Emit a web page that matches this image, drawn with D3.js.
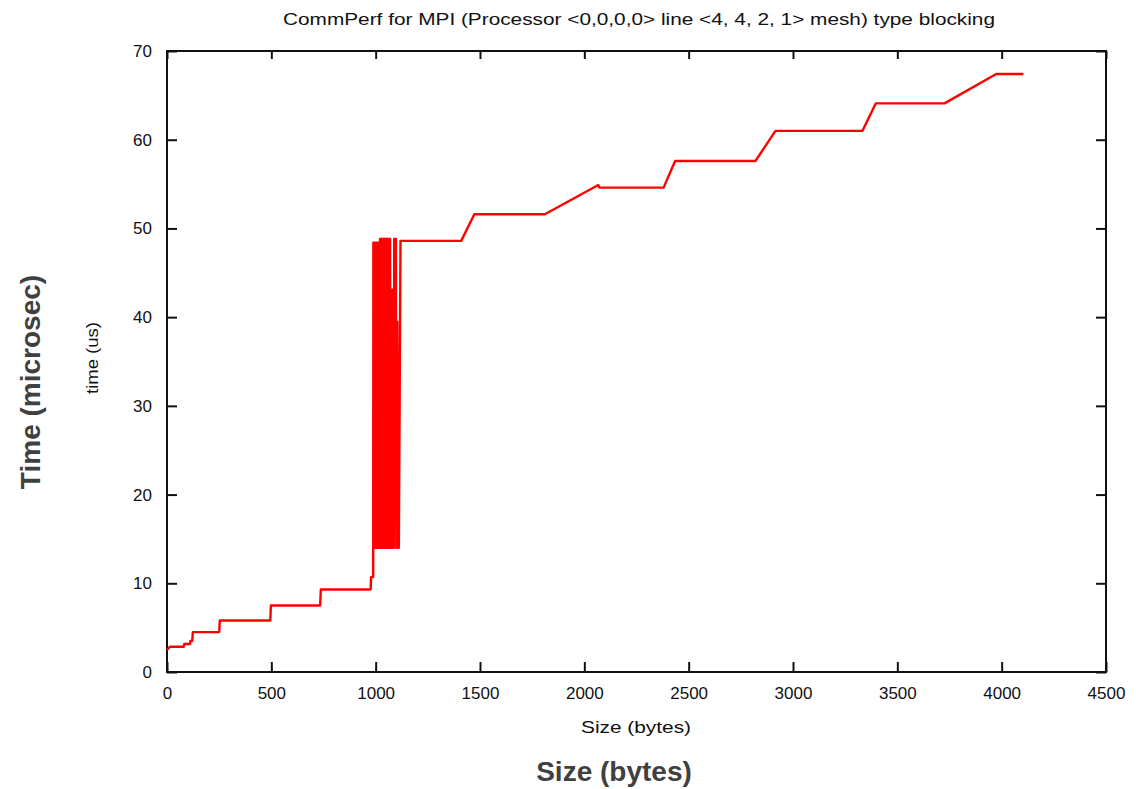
<!DOCTYPE html>
<html>
<head>
<meta charset="utf-8">
<script src="https://cdn.jsdelivr.net/npm/d3@7"></script>
<style>
  body { margin: 0; background: #fff; }
  svg { display: block; }
  .tick text { font-family: "Liberation Sans", Arial, sans-serif; font-size: 17px; fill: #111; }
</style>
</head>
<body>
<svg id="chart" width="1136" height="789"></svg>
<script>
var sizes = [0, 14, 80, 83, 110, 112, 121, 124, 250, 253, 495, 498, 734, 737, 976, 978, 988,
    989, 991, 993, 995, 997, 999, 1001, 1003, 1005, 1007, 1009, 1011, 1013, 1015, 1017, 1019,
    1021, 1023, 1025, 1027, 1029, 1031, 1033, 1035, 1037, 1039, 1041, 1043, 1045, 1047,
    1049, 1051, 1053, 1055, 1057, 1059, 1061, 1063, 1065, 1067, 1069, 1071, 1073, 1075,
    1077, 1079, 1081, 1083, 1085, 1087, 1089, 1091, 1093, 1095, 1097, 1099,
    1104, 1108, 1111, 1117, 1119,
    1410, 1473, 1811, 2067, 2072, 2380, 2435, 2820, 2916, 3333, 3397, 3726, 3974, 4104];
var times = [2.5, 2.85, 2.85, 3.15, 3.15, 3.5, 3.5, 4.5, 4.5, 5.8, 5.8, 7.5, 7.5, 9.3, 9.3, 10.7, 10.7,
    48.4, 14.0, 48.4, 14.0, 48.4, 14.0, 48.4, 14.0, 48.4, 14.0, 48.4, 14.0, 48.4, 14.0, 48.4, 14.0,
    48.8, 14.0, 48.8, 14.0, 48.8, 14.0, 48.8, 14.0, 48.8, 14.0, 48.8, 14.0, 48.8, 14.0,
    48.8, 14.0, 48.8, 14.0, 48.8, 14.0, 48.8, 14.0, 48.8, 14.0, 48.8, 14.0, 43.1, 14.0,
    43.1, 14.0, 43.1, 14.0, 43.1, 14.0, 48.8, 18.6, 48.8, 18.6, 48.8, 14.0,
    39.5, 14.0, 14.0, 39.5, 48.6,
    48.6, 51.6, 51.6, 54.9, 54.6, 54.6, 57.6, 57.6, 61.0, 61.0, 64.1, 64.1, 67.4, 67.4];

var xTicks = [0, 500, 1000, 1500, 2000, 2500, 3000, 3500, 4000, 4500];
var yTicks = [0, 10, 20, 30, 40, 50, 60, 70];

var title = "CommPerf for MPI (Processor <0,0,0,0> line <4, 4, 2, 1> mesh) type blocking";

drawChart();

function drawChart() {
    var svg = d3.select("#chart");
    var plot = {left: 167, right: 1106, top: 51, bottom: 672};

    var x = d3.scaleLinear().domain([0, 4500]).range([plot.left, plot.right]);
    var y = d3.scaleLinear().domain([0, 70]).range([plot.bottom, plot.top]);

    var data = sizes.map((s, i) => ({size: s, time: times[i]}));

    // axes, ticks pointing inward and mirrored on top/right
    svg.append('g')
        .attr('transform', 'translate(0,' + plot.bottom + ')')
        .call(d3.axisBottom(x).tickValues(xTicks).tickFormat(d3.format('d'))
            .tickSizeInner(-10).tickSizeOuter(0).tickPadding(15))
        .call(g => g.select('.domain').remove());

    svg.append('g')
        .attr('transform', 'translate(0,' + plot.top + ')')
        .call(d3.axisTop(x).tickValues(xTicks).tickSizeInner(-8).tickSizeOuter(0).tickFormat(''))
        .call(g => g.select('.domain').remove());

    svg.append('g')
        .attr('transform', 'translate(' + plot.left + ',0)')
        .call(d3.axisLeft(y).tickValues(yTicks).tickSizeInner(-10).tickSizeOuter(0).tickPadding(15))
        .call(g => g.select('.domain').remove());

    svg.append('g')
        .attr('transform', 'translate(' + plot.right + ',0)')
        .call(d3.axisRight(y).tickValues(yTicks).tickSizeInner(-10).tickSizeOuter(0).tickFormat(''))
        .call(g => g.select('.domain').remove());

    svg.selectAll('.tick line').attr('stroke', '#111').attr('stroke-width', 2);

    svg.append('rect')
        .attr('x', plot.left).attr('y', plot.top)
        .attr('width', plot.right - plot.left).attr('height', plot.bottom - plot.top)
        .attr('fill', 'none').attr('stroke', '#111').attr('stroke-width', 2);

    var line = d3.line()
        .x(d => x(d.size))
        .y(d => y(d.time));

    svg.append('path')
        .datum(data)
        .attr('fill', 'none')
        .attr('stroke', '#ff0000')
        .attr('stroke-width', 2.4)
        .attr('stroke-linejoin', 'round')
        .attr('d', line);

    // titles
    var font = '"Liberation Sans", Arial, sans-serif';
    svg.append('text')
        .attr('x', 639).attr('y', 25)
        .attr('text-anchor', 'middle')
        .attr('textLength', 712).attr('lengthAdjust', 'spacingAndGlyphs')
        .style('font-family', font).style('font-size', '17px').style('fill', '#111')
        .text(title);

    svg.append('text')
        .attr('x', 636).attr('y', 733)
        .attr('text-anchor', 'middle')
        .attr('textLength', 110).attr('lengthAdjust', 'spacingAndGlyphs')
        .style('font-family', font).style('font-size', '17px').style('fill', '#111')
        .text('Size (bytes)');

    svg.append('text')
        .attr('transform', 'translate(98,358) rotate(-90)')
        .attr('text-anchor', 'middle')
        .attr('textLength', 72).attr('lengthAdjust', 'spacingAndGlyphs')
        .style('font-family', font).style('font-size', '17px').style('fill', '#111')
        .text('time (us)');

    svg.append('text')
        .attr('x', 614).attr('y', 781)
        .attr('text-anchor', 'middle')
        .style('font-family', font).style('font-size', '28px').style('font-weight', 'bold').style('fill', '#404040')
        .text('Size (bytes)');

    svg.append('text')
        .attr('transform', 'translate(40,382) rotate(-90)')
        .attr('text-anchor', 'middle')
        .style('font-family', font).style('font-size', '28px').style('font-weight', 'bold').style('fill', '#404040')
        .text('Time (microsec)');
}
</script>
</body>
</html>
